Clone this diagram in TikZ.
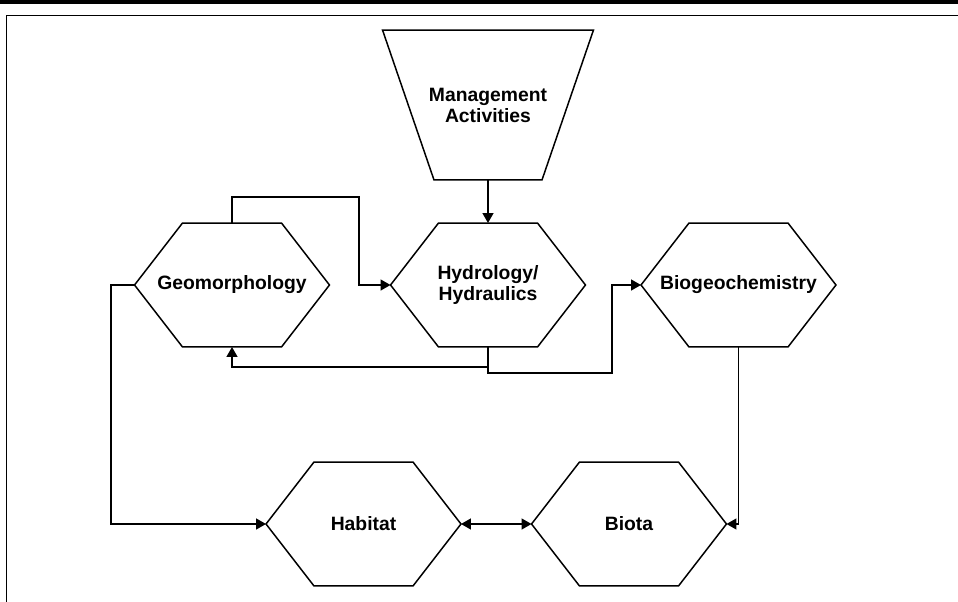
\documentclass[tikz,border=0pt]{standalone}
\usepackage{fontspec}
\setmainfont{Liberation Sans}
\usepackage{tikz}
\usetikzlibrary{arrows.meta}

\begin{document}
\begin{tikzpicture}[x=0.02cm, y=-0.02cm,
        box/.style={minimum width=3.9cm, minimum height=2.48cm, outer sep=0pt,
            inner sep=0pt, align=center, font=\fontsize{11}{12}\selectfont\bfseries},
        edge/.style={line width=0.85pt},
        tip/.tip={Triangle[length=0.2cm, width=0.22cm]},
        arr/.style={edge, -tip},
        biarr/.style={edge, tip-tip}]
        \useasboundingbox (0,0) rectangle (958,602);

        % frame
        \fill[black] (0,0) rectangle (958,3.5);
        \draw[line width=0.026cm] (6.5,602) -- (6.5,15.3) -- (958,15.3);

        %%%%%%%%%%%%%%%%%%%%%%%%%%%%%%
        \node[box, minimum width=4.22cm, minimum height=3cm] (mgmt) at (488,105) {Management\\Activities};
        \node[box] (geo) at (232,285) {Geomorphology};
        \node[box] (hyd) at (488,285) {Hydrology/\\Hydraulics};
        \node[box] (bgc) at (738.5,285) {Biogeochemistry};
        \node[box] (hab) at (363.5,524) {Habitat};
        \node[box] (bio) at (629,524) {Biota};

        \draw[edge] (mgmt.north west) -- (mgmt.north east) -- ([xshift=-1.03cm]mgmt.south east)
            -- ([xshift=1.03cm]mgmt.south west) -- cycle;
        \foreach \n in {geo, hyd, bgc, hab, bio}
            \draw[edge] (\n.west) -- ([xshift=0.96cm]\n.north west) -- ([xshift=-0.96cm]\n.north east)
                -- (\n.east) -- ([xshift=-0.96cm]\n.south east) -- ([xshift=0.96cm]\n.south west) -- cycle;

        %%%%%%%%%%%%%%%%%%%%%%%%%%%%%%
        \coordinate (geoup) at (359,197);
        \coordinate (geoleft) at (111,524);
        \coordinate (hydback) at (232,367);
        \coordinate (hydout) at (612,373);

        \draw[arr] (mgmt.south) -- (hyd.north);
        \draw[arr] (geo.north) |- (geoup) |- (hyd.west);
        \draw[arr] (geo.west) -| (geoleft) -- (hab.west);
        \draw[arr] (hyd.south) |- (hydback) -- (geo.south);
        \draw[arr] (hyd.south) |- (hydout) |- (bgc.west);
        \draw[arr] (bgc.south) |- (bio.east);
        \draw[biarr] (hab.east) -- (bio.west);
    \end{tikzpicture}
\end{document}
